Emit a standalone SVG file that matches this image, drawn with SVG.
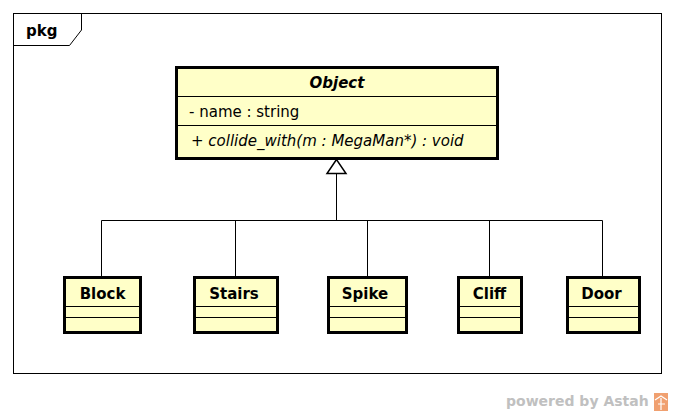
<svg xmlns="http://www.w3.org/2000/svg" width="674" height="413" viewBox="0 0 674 413">
<style>
text{font-family:"DejaVu Sans","Liberation Sans",sans-serif;font-size:15px;fill:#000}
.cls{fill:#ffffc8;stroke:#000;stroke-width:3}
.sep{stroke:#000;stroke-width:1}
.b{font-weight:bold}
.i{font-style:italic}
.conn{stroke:#000;stroke-width:1;fill:none}
</style>
<rect x="0" y="0" width="674" height="413" fill="#fff"/>
<g id="frame">
<rect x="13.5" y="13.5" width="648" height="360" fill="none" stroke="#000" stroke-width="1"/>
<path d="M13.5 45.5 H69.5 L81.5 30 V13.5" fill="none" stroke="#000" stroke-width="1"/>
<text x="26" y="36" class="b">pkg</text>
</g>
<g id="Object">
<rect class="cls" x="176.5" y="67.5" width="321" height="91"/>
<line class="sep" x1="176.5" y1="96.5" x2="497.5" y2="96.5"/>
<line class="sep" x1="176.5" y1="125.5" x2="497.5" y2="125.5"/>
<text x="337" y="88" text-anchor="middle" class="b i">Object</text>
<text x="189" y="117">- name : string</text>
<text x="191" y="146" class="i">+ collide_with(m : MegaMan*) : void</text>
</g>
<g id="connectors">
<path class="conn" d="M336.5 221 V174" stroke-width="2"/>
<path d="M336.5 159.5 L327 173.5 H346 Z" fill="#fff" stroke="#000" stroke-width="1.5"/>
<path class="conn" d="M101.5 277 V220.5 H602.5 V277"/>
<path class="conn" d="M235.5 220.5 V277"/>
<path class="conn" d="M367.5 220.5 V277"/>
<path class="conn" d="M489.5 220.5 V277"/>
</g>
<g id="Block">
<rect class="cls" x="64.5" y="277.5" width="76" height="55"/>
<line class="sep" x1="64.5" y1="306.5" x2="140.5" y2="306.5"/>
<line class="sep" x1="64.5" y1="317.5" x2="140.5" y2="317.5"/>
<text x="102.5" y="299" text-anchor="middle" class="b">Block</text>
</g>
<g id="Stairs">
<rect class="cls" x="194.5" y="277.5" width="83" height="55"/>
<line class="sep" x1="194.5" y1="306.5" x2="277.5" y2="306.5"/>
<line class="sep" x1="194.5" y1="317.5" x2="277.5" y2="317.5"/>
<text x="234" y="299" text-anchor="middle" class="b">Stairs</text>
</g>
<g id="Spike">
<rect class="cls" x="328.5" y="277.5" width="78" height="55"/>
<line class="sep" x1="328.5" y1="306.5" x2="406.5" y2="306.5"/>
<line class="sep" x1="328.5" y1="317.5" x2="406.5" y2="317.5"/>
<text x="365" y="299" text-anchor="middle" class="b">Spike</text>
</g>
<g id="Cliff">
<rect class="cls" x="458.5" y="277.5" width="63" height="55"/>
<line class="sep" x1="458.5" y1="306.5" x2="521.5" y2="306.5"/>
<line class="sep" x1="458.5" y1="317.5" x2="521.5" y2="317.5"/>
<text x="489.5" y="299" text-anchor="middle" class="b">Cliff</text>
</g>
<g id="Door">
<rect class="cls" x="567.5" y="277.5" width="72" height="55"/>
<line class="sep" x1="567.5" y1="306.5" x2="639.5" y2="306.5"/>
<line class="sep" x1="567.5" y1="317.5" x2="639.5" y2="317.5"/>
<text x="601.5" y="299" text-anchor="middle" class="b">Door</text>
</g>
<g id="watermark">
<text x="506" y="406" class="b" style="fill:#c0c0c0;font-size:14px">powered by Astah</text>
<rect x="654" y="393" width="14" height="18" fill="#f0a070"/>
<path d="M655 400 L661 396 L667 400 M658 404 H665 M661 398 V410" stroke="#fff" stroke-width="1.2" fill="none"/>
</g>
</svg>
